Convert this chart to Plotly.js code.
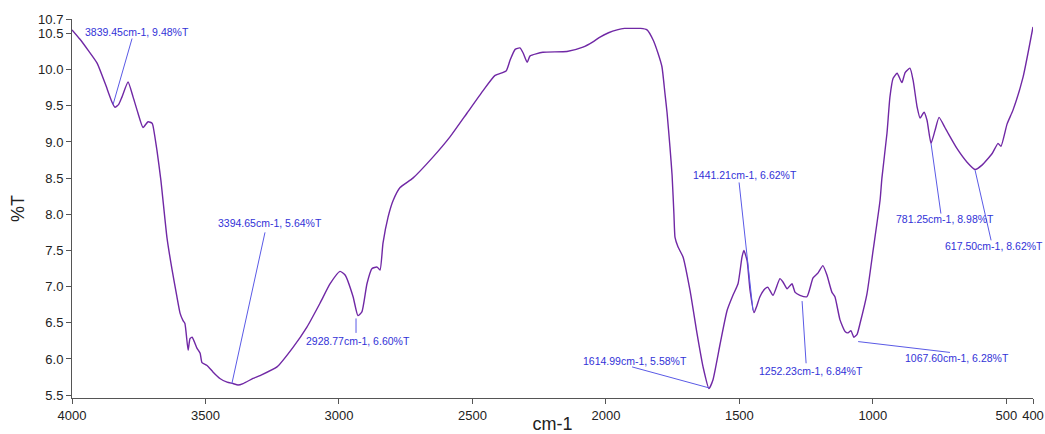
<!DOCTYPE html>
<html>
<head>
<meta charset="utf-8">
<script src="https://cdn.plot.ly/plotly-3.0.1.min.js"></script>
<style>html,body{margin:0;padding:0;background:#fff;}#chart{width:1045px;height:434px;}</style>
</head>
<body>
<div id="chart"></div>
<script>
// Spectrum (wavenumber cm-1, %T)
const wavenumber = [4000,3970,3940,3906,3875,3850,3839,3825,3813,3790,3771,3753,3734,3715,3700,3697,3682,3667,3644,3625,3607,3595,3584,3577,3565,3558,3550,3532,3520,3513,3494,3472,3446,3419,3397,3378,3359,3322,3296,3232,3172,3120,3071,3033,2996,2977,2947,2929,2914,2895,2876,2857,2846,2835,2816,2797,2771,2723,2648,2584,2520,2460,2415,2374,2359,2340,2322,2310,2295,2284,2236,2146,2086,2050,2022,1990,1958,1930,1898,1870,1846,1823,1805,1790,1779,1771,1760,1752,1745,1741,1730,1711,1685,1659,1636,1614,1599,1572,1546,1524,1505,1490,1483,1471,1460,1445,1434,1423,1404,1393,1374,1348,1336,1321,1303,1291,1273,1247,1224,1205,1187,1172,1153,1142,1123,1104,1093,1082,1071,1059,1048,1022,999,973,966,947,936,924,909,891,879,861,849,834,823,808,797,782,767,752,730,718,685,647,617,591,553,531,520,497,475,437,400];
const transmittance = [10.55,10.42,10.27,10.09,9.80,9.55,9.48,9.52,9.62,9.83,9.62,9.40,9.20,9.28,9.26,9.23,8.89,8.47,7.67,7.23,6.86,6.63,6.53,6.49,6.12,6.28,6.30,6.15,6.08,5.95,5.91,5.82,5.73,5.68,5.66,5.64,5.66,5.73,5.77,5.89,6.16,6.44,6.77,7.04,7.21,7.16,6.86,6.60,6.65,7.04,7.25,7.27,7.23,7.60,7.96,8.19,8.37,8.50,8.79,9.07,9.40,9.71,9.92,9.98,10.13,10.28,10.30,10.23,10.10,10.19,10.24,10.25,10.31,10.38,10.45,10.51,10.55,10.57,10.57,10.57,10.55,10.41,10.23,10.04,9.68,9.41,8.93,8.54,7.99,7.68,7.55,7.41,6.95,6.36,5.89,5.59,5.71,6.21,6.67,6.88,7.04,7.41,7.50,7.36,6.95,6.64,6.74,6.86,6.97,6.99,6.88,7.11,7.06,6.97,7.04,6.92,6.88,6.86,7.12,7.19,7.29,7.16,6.92,6.86,6.54,6.38,6.36,6.39,6.30,6.34,6.49,6.90,7.50,8.19,8.50,9.12,9.62,9.88,9.95,9.82,9.96,10.02,9.85,9.48,9.33,9.41,9.30,8.98,9.16,9.34,9.20,9.12,8.91,8.72,8.62,8.68,8.84,8.98,8.94,9.25,9.44,9.90,10.59];

// Peak labels
const peakWavenumber = [3839.45,3394.65,2928.77,1614.99,1441.21,1252.23,1067.60,781.25,617.50];
const peakTransmittance = [9.48,5.64,6.60,5.58,6.62,6.84,6.28,8.98,8.62];

const xTickVals = [4000,3500,3000,2500,2000,1500,1000,500,400];
const yTickVals = [5.5,6.0,6.5,7.0,7.5,8.0,8.5,9.0,9.5,10.0,10.5,10.7];

// label placement (left edge x, center y) and leader lines [x0,y0,x1,y1] in axis units
const labelPos = [[3959,10.52],[3461,7.88],[3131,6.25],[2093,5.97],[1681,8.54],[1434,5.83],[887,6.01],[921,7.93],[737,7.56]];
const leaders = [[3775,10.43,3846,9.52],[3277,7.75,3401,5.66],[2936,6.56,2936,6.36],[1902,5.89,1614,5.60],[1501,8.44,1449,6.67],[1265,6.80,1250,5.94],[1055,6.24,711,6.09],[782,8.98,745,8.01],[617,8.61,557,7.64]];

const labelColor = 'rgb(50,50,215)';
const annotations = peakWavenumber.map((w,i)=>({
  x: labelPos[i][0], y: labelPos[i][1], xref:'x', yref:'y',
  text: w.toFixed(2)+'cm-1, '+peakTransmittance[i].toFixed(2)+'%T',
  showarrow:false, xanchor:'left', yanchor:'middle',
  font:{family:'Liberation Sans, Arial, sans-serif', size:10.5, color:labelColor}
}));
const shapes = leaders.map(l=>({
  type:'line', xref:'x', yref:'y', x0:l[0], y0:l[1], x1:l[2], y1:l[3],
  line:{color:'rgb(90,90,230)', width:1}
}));

const trace = {
  x: wavenumber, y: transmittance, type:'scatter', mode:'lines',
  line:{color:'rgb(112,40,165)', width:1.4, shape:'spline', smoothing:0.5}, hoverinfo:'skip'
};

const axisFont = {family:'Liberation Sans, Arial, sans-serif', size:13, color:'#222'};
const layout = {
  width:1045, height:434,
  margin:{l:72, r:12, t:19, b:36, pad:0},
  paper_bgcolor:'#fff', plot_bgcolor:'#fff',
  showlegend:false,
  xaxis:{
    range:[4000,400], tickvals:xTickVals, ticktext:xTickVals.map(String),
    ticks:'outside', ticklen:5, tickcolor:'#555', showline:true, linecolor:'#555', linewidth:1,
    showgrid:false, zeroline:false, tickfont:axisFont,
    title:{text:'cm-1', font:{family:'Liberation Sans, Arial, sans-serif', size:18, color:'#222'}, standoff:4}
  },
  yaxis:{
    range:[5.46,10.7], tickvals:yTickVals, ticktext:yTickVals.map(v=>v.toFixed(1)),
    ticks:'outside', ticklen:5, tickcolor:'#555', showline:true, linecolor:'#555', linewidth:1,
    showgrid:false, zeroline:false, tickfont:axisFont,
    title:{text:'%T', font:{family:'Liberation Sans, Arial, sans-serif', size:18, color:'#222'}, standoff:8}
  },
  annotations: annotations,
  shapes: shapes
};
Plotly.newPlot('chart',[trace],layout,{staticPlot:true, displayModeBar:false});
</script>
</body>
</html>
